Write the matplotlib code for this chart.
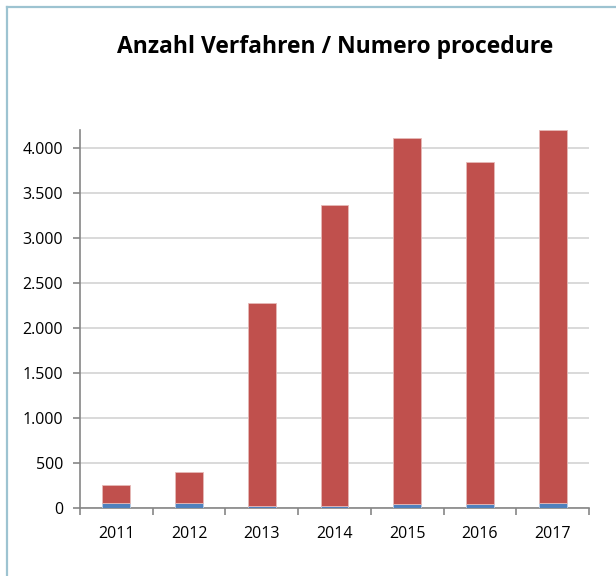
import matplotlib
matplotlib.use("Agg")
import matplotlib.pyplot as plt
import numpy as np
from matplotlib.ticker import FuncFormatter, FixedLocator

years = ["2011", "2012", "2013", "2014", "2015", "2016", "2017"]
blue_vals = [55, 55, 20, 20, 35, 35, 45]
red_vals = [200, 345, 2255, 3345, 4080, 3812, 4150]
title = "Anzahl Verfahren / Numero procedure"

plt.rcParams['font.family'] = ['Open Sans', 'DejaVu Sans']

fig = plt.figure(figsize=(6.16, 5.76), dpi=100)
fig.patch.set_facecolor("white")
ax = fig.add_axes([80/616, 1-507.5/576, (589-80)/616, (507.5-130)/576])

x = np.arange(len(years))
w = 0.385
ax.bar(x, blue_vals, width=w, color="#4F81BD", edgecolor="#B9CDE5", linewidth=0.6, zorder=3)
ax.bar(x, red_vals, width=w, bottom=blue_vals, color="#C0504D", edgecolor="#E6B9B8", linewidth=0.6, zorder=3)

ax.set_xlim(-0.5, len(years) - 0.5)
ax.set_ylim(0, 4200)
ax.set_yticks(np.arange(0, 4001, 500))
ax.yaxis.set_major_formatter(FuncFormatter(lambda v, p: f"{int(v):,}".replace(",", ".")))
ax.grid(axis="y", color="#D9D9D9", linewidth=1.4, zorder=0)
ax.set_axisbelow(True)

ax.set_xticks(x)
ax.set_xticklabels(years)
ax.xaxis.set_minor_locator(FixedLocator(np.arange(-0.5, len(years), 1.0)))
ax.tick_params(axis="x", which="major", length=0, pad=13, labelsize=11.5, colors="black")
ax.tick_params(axis="x", which="minor", length=5, width=1.2, color="#868686", direction="out")
ax.tick_params(axis="y", which="major", length=5, width=1.2, color="#868686", direction="out", labelsize=11.5, pad=7)

for s in ["top", "right"]:
    ax.spines[s].set_visible(False)
for s in ["left", "bottom"]:
    ax.spines[s].set_color("#868686")
    ax.spines[s].set_linewidth(1.2)

fig.text(335/616, 1-47/576, title, ha="center", va="center", fontsize=16.5, fontweight="bold")

# outer border (top and left visible)
fig.add_artist(plt.Line2D([7/616, 7/616], [0, 1-6.5/576], transform=fig.transFigure, color="#9DC3D1", linewidth=1.6))
fig.add_artist(plt.Line2D([7/616, 1], [1-6.5/576, 1-6.5/576], transform=fig.transFigure, color="#9DC3D1", linewidth=1.6))

fig.savefig("out.png", dpi=100)
